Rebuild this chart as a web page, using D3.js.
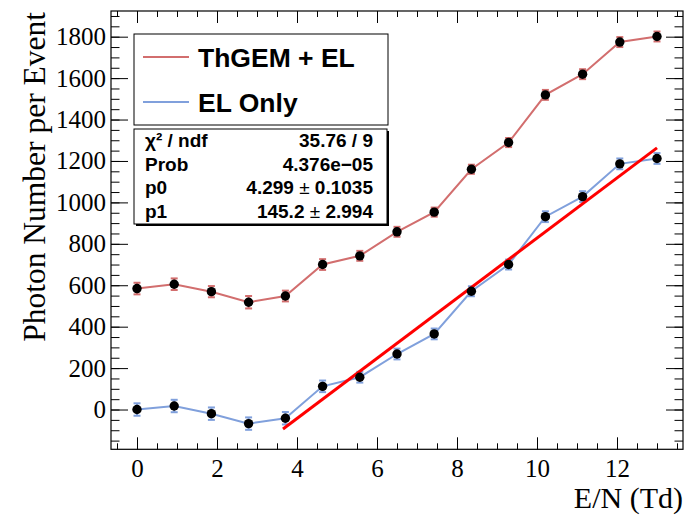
<!DOCTYPE html>
<html lang="en">
<head>
<meta charset="utf-8">
<title>Photon number vs E/N</title>
<script src="https://cdn.jsdelivr.net/npm/d3@7"></script>
<style>
  body { margin: 0; background: #fff; }
</style>
</head>
<body>
<script>
// data
var fieldValues = [0, 0.93, 1.86, 2.79, 3.71, 4.64, 5.57, 6.5, 7.43, 8.36, 9.29, 10.21, 11.14, 12.07, 13.0];
var thgemValues = [584, 605, 569, 518, 548, 700, 742, 858, 953, 1160, 1289, 1519, 1619, 1774, 1801];
var thgemErrors = [28, 28, 27, 30, 26, 26, 24, 24, 22, 22, 22, 24, 24, 24, 24];
var elValues = [0, 17, -20, -68, -42, 112, 156, 268, 365, 571, 700, 931, 1028, 1186, 1212];
var elErrors = [30, 30, 30, 30, 30, 28, 26, 26, 26, 24, 24, 26, 26, 26, 26];
var xTicks = [0, 2, 4, 6, 8, 10, 12];
var yTicks = [0, 200, 400, 600, 800, 1000, 1200, 1400, 1600, 1800];
var legendLabels = ["ThGEM + EL", "EL Only"];
var statsNames = ["\u03c7\u00b2 / ndf", "Prob", "p0", "p1"];
var statsValues = [["35.76 / 9"], ["4.376e\u221205"], ["4.299 ", "\u00b1", " 0.1035"], ["145.2 ", "\u00b1", " 2.994"]];
var fitP0 = 4.299, fitP1 = 145.2;
var fitRange = [3.65, 13.0];

var width = 692, height = 516;
var frameLeft = 111, frameRight = 683, frameTop = 11, frameBottom = 449.3;
var redColor = "#d26e6e", blueColor = "#80a0dc";

var svg = d3.select("body").append("svg")
  .attr("width", width)
  .attr("height", height);

var x = d3.scaleLinear().domain([-0.65, 13.65]).range([frameLeft, frameRight]);
var y = d3.scaleLinear().domain([-192, 1924]).range([frameBottom, frameTop]);

var xMinor = d3.range(-0.5, 13.6, 0.5);
var yMinor = d3.range(-150, 1901, 50);

// axes with ticks pointing inside the frame
function drawAxis(axis, tx, ty, labels) {
  var g = svg.append("g")
    .attr("transform", "translate(" + [tx, ty] + ")")
    .call(axis);
  g.select(".domain").remove();
  g.selectAll("line").attr("stroke", "#000").attr("stroke-width", 1);
  if (!labels) g.selectAll("text").remove();
  else g.selectAll("text")
    .attr("fill", "#000")
    .style("font-family", "'Liberation Serif', 'Times New Roman', serif")
    .style("font-size", "25px");
  return g;
}

drawAxis(d3.axisBottom(x).tickValues(xTicks).tickSize(-12).tickPadding(10).tickFormat(d3.format("d")), 0, frameBottom, true);
drawAxis(d3.axisBottom(x).tickValues(xMinor).tickSize(-6).tickFormat(""), 0, frameBottom, false);
drawAxis(d3.axisTop(x).tickValues(xTicks).tickSize(-12), 0, frameTop, false);
drawAxis(d3.axisTop(x).tickValues(xMinor).tickSize(-6), 0, frameTop, false);
drawAxis(d3.axisLeft(y).tickValues(yTicks).tickSize(-17).tickPadding(5).tickFormat(d3.format("d")), frameLeft, 0, true);
drawAxis(d3.axisLeft(y).tickValues(yMinor).tickSize(-8.5).tickFormat(""), frameLeft, 0, false);
drawAxis(d3.axisRight(y).tickValues(yTicks).tickSize(-17), frameRight, 0, false);
drawAxis(d3.axisRight(y).tickValues(yMinor).tickSize(-8.5), frameRight, 0, false);

// frame
svg.append("rect")
  .attr("x", frameLeft).attr("y", frameTop)
  .attr("width", frameRight - frameLeft).attr("height", frameBottom - frameTop)
  .attr("fill", "none").attr("stroke", "#000").attr("stroke-width", 1.2);

// axis titles
svg.append("text")
  .attr("x", frameRight).attr("y", 508)
  .attr("text-anchor", "end")
  .style("font-family", "'Liberation Serif', 'Times New Roman', serif")
  .style("font-size", "30px")
  .text("E/N (Td)");

svg.append("text")
  .attr("transform", "translate(45,12) rotate(-90)")
  .attr("text-anchor", "end")
  .style("font-family", "'Liberation Serif', 'Times New Roman', serif")
  .style("font-size", "31.5px")
  .text("Photon Number per Event");

// series
var series = [
  { values: thgemValues, errors: thgemErrors, color: redColor },
  { values: elValues, errors: elErrors, color: blueColor }
];

var line = d3.line()
  .x(function(d) { return x(d[0]); })
  .y(function(d) { return y(d[1]); });

series.forEach(function(s) {
  var pts = fieldValues.map(function(v, i) { return [v, s.values[i], s.errors[i]]; });
  svg.append("path")
    .datum(pts)
    .attr("d", line)
    .attr("fill", "none")
    .attr("stroke", s.color)
    .attr("stroke-width", 2);

  var eb = svg.append("g").attr("stroke", s.color).attr("stroke-width", 2);
  eb.selectAll(".bar").data(pts).enter().append("line")
    .attr("x1", function(d) { return x(d[0]); })
    .attr("x2", function(d) { return x(d[0]); })
    .attr("y1", function(d) { return y(d[1] - d[2]); })
    .attr("y2", function(d) { return y(d[1] + d[2]); });
  [-1, 1].forEach(function(sign) {
    eb.selectAll(".cap").data(pts).enter().append("line")
      .attr("x1", function(d) { return x(d[0]) - 3.5; })
      .attr("x2", function(d) { return x(d[0]) + 3.5; })
      .attr("y1", function(d) { return y(d[1] + sign * d[2]); })
      .attr("y2", function(d) { return y(d[1] + sign * d[2]); });
  });
  s.pts = pts;
});

// linear fit on EL only
svg.append("line")
  .attr("x1", x(fitRange[0])).attr("y1", y(fitP1 * (fitRange[0] - fitP0)))
  .attr("x2", x(fitRange[1])).attr("y2", y(fitP1 * (fitRange[1] - fitP0)))
  .attr("stroke", "#ff0000")
  .attr("stroke-width", 3);

// markers
series.forEach(function(s) {
  svg.append("g").selectAll("circle").data(s.pts).enter().append("circle")
    .attr("cx", function(d) { return x(d[0]); })
    .attr("cy", function(d) { return y(d[1]); })
    .attr("r", 4.7)
    .attr("fill", "#000");
});

// legend box
svg.append("rect")
  .attr("x", 134).attr("y", 34).attr("width", 254).attr("height", 91)
  .attr("fill", "#fff").attr("stroke", "#000").attr("stroke-width", 1);

[redColor, blueColor].forEach(function(c, i) {
  var ly = 57 + i * 45;
  svg.append("line")
    .attr("x1", 143).attr("x2", 189).attr("y1", ly).attr("y2", ly)
    .attr("stroke", c).attr("stroke-width", 2.2);
  svg.append("text")
    .attr("x", 198).attr("y", ly + 9.7)
    .style("font-family", "'Liberation Sans', Arial, sans-serif")
    .style("font-weight", "bold")
    .style("font-size", "26.5px")
    .text(legendLabels[i]);
});

// stats box with shadow
svg.append("rect")
  .attr("x", 136).attr("y", 131).attr("width", 253).attr("height", 95)
  .attr("fill", "#000");
svg.append("rect")
  .attr("x", 134).attr("y", 129).attr("width", 253).attr("height", 95)
  .attr("fill", "#fff").attr("stroke", "#000").attr("stroke-width", 1);

statsNames.forEach(function(name, i) {
  var by = 147 + i * 23.5;
  svg.append("text")
    .attr("x", 145).attr("y", by)
    .style("font-family", "'Liberation Sans', Arial, sans-serif")
    .style("font-weight", "bold")
    .style("font-size", "19px")
    .text(name);
  var t = svg.append("text")
    .attr("x", 373).attr("y", by)
    .attr("text-anchor", "end")
    .style("font-family", "'Liberation Sans', Arial, sans-serif")
    .style("font-weight", "bold")
    .style("font-size", "19px");
  statsValues[i].forEach(function(part) {
    t.append("tspan")
      .style("font-weight", part === "\u00b1" ? "normal" : "bold")
      .attr("xml:space", "preserve")
      .text(part);
  });
});
</script>
</body>
</html>
